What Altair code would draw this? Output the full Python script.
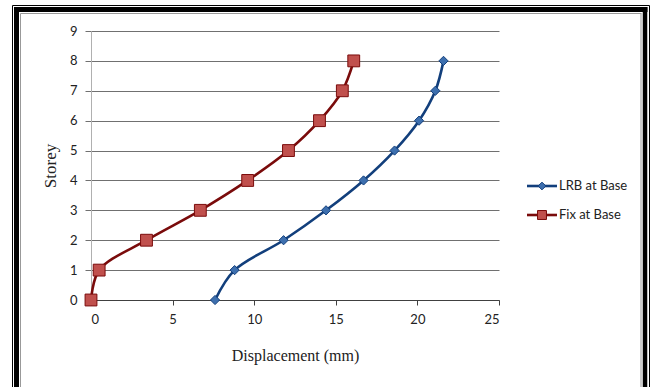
import altair as alt
import pandas as pd

storey = [0, 1, 2, 3, 4, 5, 6, 7, 8]
lrb_disp = [7.6, 8.8, 11.8, 14.4, 16.7, 18.6, 20.1, 21.1, 21.6]
fix_disp = [0.0, 0.5, 3.4, 6.7, 9.6, 12.1, 14.0, 15.4, 16.1]
series_names = ["LRB at Base", "Fix at Base"]
x_ticks = [0, 5, 10, 15, 20, 25]
y_ticks = list(range(10))

LRB_LINE, LRB_FILL = "#123f7c", "#3d6fae"
FIX_LINE, FIX_FILL = "#7a0b0b", "#c0504d"
LABEL_FONT = "Lato"
TITLE_FONT = "Liberation Serif"

df_lrb = pd.DataFrame({"storey": storey, "disp": lrb_disp, "series": series_names[0]})
df_fix = pd.DataFrame({"storey": storey, "disp": fix_disp, "series": series_names[1]})

W, H = 408, 269

xenc = alt.X("disp:Q", scale=alt.Scale(domain=[0, 25], nice=False),
             axis=alt.Axis(values=x_ticks, title="Displacement (mm)", grid=False,
                           domainColor="#404040", tickColor="#404040", tickSize=5,
                           labelFont=LABEL_FONT, labelFontSize=13, labelColor="#222",
                           labelPadding=8, titleFont=TITLE_FONT, titleFontSize=16,
                           titleFontWeight="normal", titleColor="#222", titlePadding=21))
yenc = alt.Y("storey:Q", scale=alt.Scale(domain=[0, 9], nice=False),
             axis=alt.Axis(values=y_ticks, title="Storey", grid=True, gridColor="#707070",
                           domainColor="#b0b0b0", tickColor="#707070", tickSize=6,
                           labelFont=LABEL_FONT, labelFontSize=13, labelColor="#222",
                           labelPadding=8, titleFont=TITLE_FONT, titleFontSize=17,
                           titleFontWeight="normal", titleColor="#222", titlePadding=10))

def series_layers(df, line_c, fill_c, shape, size):
    line = alt.Chart(df).mark_line(interpolate="catmull-rom", strokeWidth=2.6, color=line_c).encode(
        x=xenc, y=yenc, order="storey:Q")
    pts = alt.Chart(df).mark_point(shape=shape, size=size, filled=True, fill=fill_c,
                                   stroke=line_c, strokeWidth=1, opacity=1).encode(x=xenc, y=yenc)
    return [line, pts]

one = pd.DataFrame({"a": [0]})

def hrule(y, x1, x2, w, c):
    return alt.Chart(one).mark_rule(strokeWidth=w, color=c).encode(
        x=alt.value(x1), x2=alt.value(x2), y=alt.value(y))

def vrule(x, y1, y2, w, c):
    return alt.Chart(one).mark_rule(strokeWidth=w, color=c).encode(
        x=alt.value(x), y=alt.value(y1), y2=alt.value(y2))

frame = [
    hrule(-25.5, -78.5, 558.5, 1, "#000"),
    hrule(-21.5, -76.5, 556.5, 5, "#000"),
    hrule(-17.5, -70.5, 550.5, 1, "#999"),
    vrule(-78.5, -25.5, 360, 1, "#000"),
    vrule(-74.5, -24, 360, 5, "#000"),
    vrule(-70.5, -17.5, 360, 1, "#999"),
    vrule(550, -17.5, 360, 1, "#999"),
    vrule(554, -24, 360, 4.5, "#000"),
    vrule(558.5, -25.5, 360, 1, "#000"),
]

leg = []
for i, (name, lc, fc, shp, sz) in enumerate([
        (series_names[0], LRB_LINE, LRB_FILL, "diamond", 60),
        (series_names[1], FIX_LINE, FIX_FILL, "square", 80)]):
    yy = 155 + i * 29
    d = pd.DataFrame({"series": [name]})
    leg.append(alt.Chart(d).mark_rule(strokeWidth=2.6, color=lc).encode(
        x=alt.value(436), x2=alt.value(466), y=alt.value(yy)))
    leg.append(alt.Chart(d).mark_point(shape=shp, size=sz, filled=True, fill=fc, stroke=lc,
                                       strokeWidth=1, opacity=1).encode(
        x=alt.value(451), y=alt.value(yy)))
    leg.append(alt.Chart(d).mark_text(align="left", baseline="middle", font=LABEL_FONT,
                                      fontSize=13, color="#222").encode(
        x=alt.value(468), y=alt.value(yy), text="series:N"))

layers = frame + series_layers(df_lrb, LRB_LINE, LRB_FILL, "diamond", 85) \
    + series_layers(df_fix, FIX_LINE, FIX_FILL, "square", 140) + leg

chart = alt.layer(*layers).properties(
    width=W, height=H,
    padding={"left": 91, "top": 31, "right": 152, "bottom": 87},
    autosize=alt.AutoSizeParams(type="none"),
    background="white",
).configure_view(stroke=None)

chart.save("out.html", embed_options={"renderer": "svg", "actions": False})
